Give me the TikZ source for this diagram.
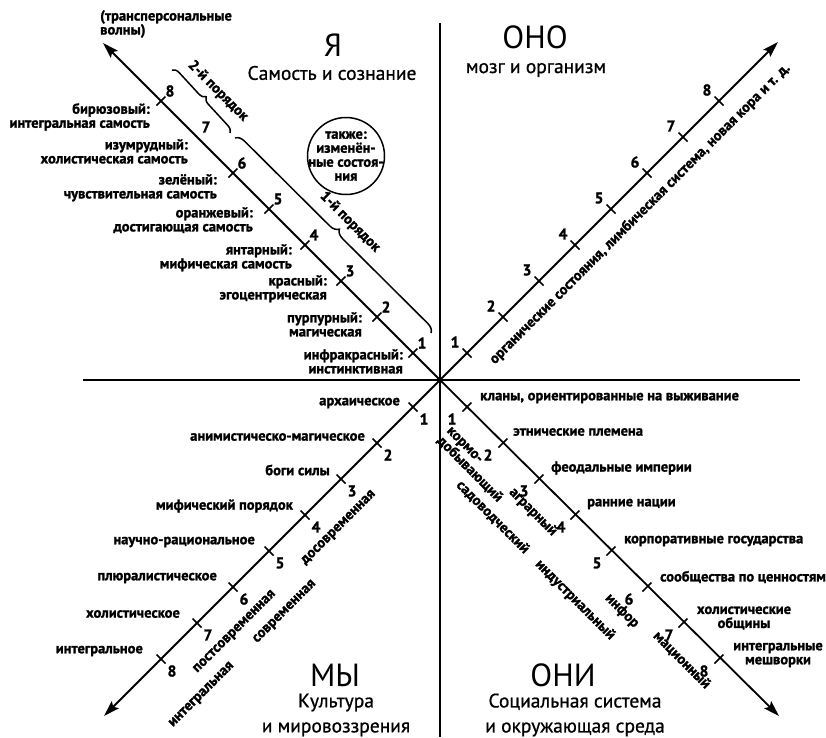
\documentclass[tikz,border=0pt]{standalone}
\usepackage{fontspec}
\setmainfont{PT Sans}
\newfontfamily\labelfont{PT Sans}[BoldFeatures={FakeBold=1.5}]
\newfontfamily\headfont{PT Sans}[FakeBold=0.8]
\usetikzlibrary{arrows.meta,decorations.pathreplacing}

\begin{document}
\begin{tikzpicture}[x=1pt,y=-1pt,
  axis/.style={line width=1.8pt},
  arrowaxis/.style={line width=1.8pt,-{Stealth[length=16pt,width=10pt,inset=3pt]}},
  tickmark/.style={line width=1.6pt},
  lbl/.style={font=\labelfont\bfseries\fontsize{14.5}{14}\selectfont, inner sep=0pt},
  num/.style={font=\labelfont\bfseries\fontsize{15.5}{15}\selectfont, inner sep=0pt},
  bigtitle/.style={font=\fontsize{32}{32}\selectfont, inner sep=0pt},
  subtitle/.style={font=\headfont\fontsize{19.5}{25}\selectfont, inner sep=0pt, align=center},
  bracestyle/.style={line width=1.5pt, decorate, decoration={brace, amplitude=#1}},
]
\useasboundingbox (0,0) rectangle (826,737);

% quadrant axes
\coordinate (O) at (440,380);
\coordinate (Vtop) at (440,23);
\coordinate (Vbot) at (440,737);
\coordinate (Hleft) at (83,380);
\coordinate (Hright) at (800,380);
\coordinate (ULtip) at (103,43);
\coordinate (URtip) at (778,42);
\coordinate (LLtip) at (104,716);
\coordinate (LRtip) at (779,716);

\draw[axis] (Vtop) -- (Vbot);
\draw[axis] (Hleft) -- (Hright);
\draw[arrowaxis] (O) -- (ULtip);
\draw[arrowaxis] (O) -- (URtip);
\draw[arrowaxis] (O) -- (LLtip);
\draw[arrowaxis] (O) -- (LRtip);

% level positions on the four diagonals
\foreach \k in {1,...,8}{
  \pgfmathsetmacro\d{27+36*(\k-1)}
  \coordinate (ul\k) at ({440-\d},{380-\d});
  \coordinate (ur\k) at ({440+\d},{380-\d});
  \coordinate (ll\k) at ({440-\d},{380+\d});
  \coordinate (lr\k) at ({440+\d},{380+\d});
}
\foreach \k in {1,2,3,4,5,6,8}{
  \draw[tickmark] (ul\k) +(-4.5,4.5) -- +(4.5,-4.5);
}
\foreach \k in {1,...,8}{
  \draw[tickmark] (ur\k) +(-4.5,-4.5) -- +(4.5,4.5);
  \draw[tickmark] (ll\k) +(-4.5,-4.5) -- +(4.5,4.5);
  \draw[tickmark] (lr\k) +(-4.5,4.5) -- +(4.5,-4.5);
  \node[num] (ulnum\k) at ([shift={(9,-10)}]ul\k) {\k};
  \node[num] (urnum\k) at ([shift={(-12,-11)}]ur\k) {\k};
  \node[num] (llnum\k) at ([shift={(11,12)}]ll\k) {\k};
}
\foreach \k/\dx in {1/-15,2/-15,3/-15,4/-14,5/-14,6/-18,7/-14,8/-15}{
  \node[num] (lrnum\k) at ([shift={(\dx,12)}]lr\k) {\k};
}

% titles
\node[bigtitle] (ya) at (333,45) {Я};
\node[subtitle] (yasub) at (332,73) {Самость и сознание};
\node[bigtitle] (ono) at (535,37) {ОНО};
\node[subtitle] (onosub) at (536,70) {мозг и организм};
\node[bigtitle] (my) at (335,675) {МЫ};
\node[subtitle] (mysub) at (336,715) {Культура\\и мировоззрения};
\node[bigtitle] (oni) at (563,675) {ОНИ};
\node[subtitle] (onisub) at (575,715) {Социальная система\\и окружающая среда};

% upper left: stages of the self
\node[lbl, align=left, anchor=north west] (transp) at (100,10) {(трансперсональные\\волны)};
\begin{scope}[every node/.style={lbl, align=right, anchor=north east}]
\node (s1) at (403,349) {инфракрасный:\\инстинктивная};
\node (s2) at (362,312) {пурпурный:\\магическая};
\node (s3) at (327,275) {красный:\\эгоцентрическая};
\node (s4) at (292,244) {янтарный:\\мифическая самость};
\node (s5) at (253,207) {оранжевый:\\достигающая самость};
\node (s6) at (217,174) {зелёный:\\чувствительная самость};
\node (s7) at (188,139) {изумрудный:\\холистическая самость};
\node (s8) at (150,103) {бирюзовый:\\интегральная самость};
\end{scope}

\draw[bracestyle=7pt] (172,70) -- (230,133);
\node[lbl, rotate=-45] (order2) at (218,91) {2-й порядок};
\draw[bracestyle=9pt] (235,138) -- (431,333);
\node[lbl, rotate=-45] (order1) at (350,222) {1-й порядок};

\node[draw, circle, line width=1.5pt, minimum size=77pt, inner sep=0pt] (altcircle) at (346,156) {};
\node[lbl, align=center] (alttext) at (altcircle.center) {также:\\изменён-\\ные состоя-\\ния};

% upper right: organism
\node[lbl, rotate=45] (brain) at (640,214) {органические состояния, лимбическая система, новая кора и т. д.};

% lower left: worldviews
\begin{scope}[every node/.style={lbl, anchor=east}]
\node (w1) at (400,403) {архаическое};
\node (w2) at (365,437) {анимистическо-магическое};
\node (w3) at (330,470) {боги силы};
\node (w4) at (293,506) {мифический порядок};
\node (w5) at (255,542) {научно-рациональное};
\node (w6) at (217,578) {плюралистическое};
\node (w7) at (180,614) {холистическое};
\node (w8) at (143,651) {интегральное};
\end{scope}
\begin{scope}[every node/.style={lbl, rotate=45}]
\node (era1) at (339,528) {досовременная};
\node (era2) at (285,612) {современная};
\node (era3) at (235,632) {постсовременная};
\node (era4) at (202,695) {интегральная};
\end{scope}

% lower right: social systems
\begin{scope}[every node/.style={lbl, anchor=west}]
\node (c1) at (480,398) {кланы, ориентированные на выживание};
\node (c2) at (513,432) {этнические племена};
\node (c3) at (551,468) {феодальные империи};
\node (c4) at (587,504) {ранние нации};
\node (c5) at (624,541) {корпоративные государства};
\node (c6) at (660,577) {сообщества по ценностям};
\end{scope}
\node[lbl, align=center] (c7) at (744,618) {холистические\\общины};
\node[lbl, align=center] (c8) at (778,655) {интегральные\\мешворки};

\begin{scope}[every node/.style={lbl, rotate=-45}]
\node[align=left] (t1) at (474,465) {кормо-\\добывающий};
\node (t2) at (493,517) {садоводческий};
\node (t3) at (533,512) {аграрный};
\node (t4) at (575,600) {индустриальный};
\node (t5) at (622,611) {инфор};
\node (t6) at (682,660) {мационный};
\end{scope}
\end{tikzpicture}
\end{document}
